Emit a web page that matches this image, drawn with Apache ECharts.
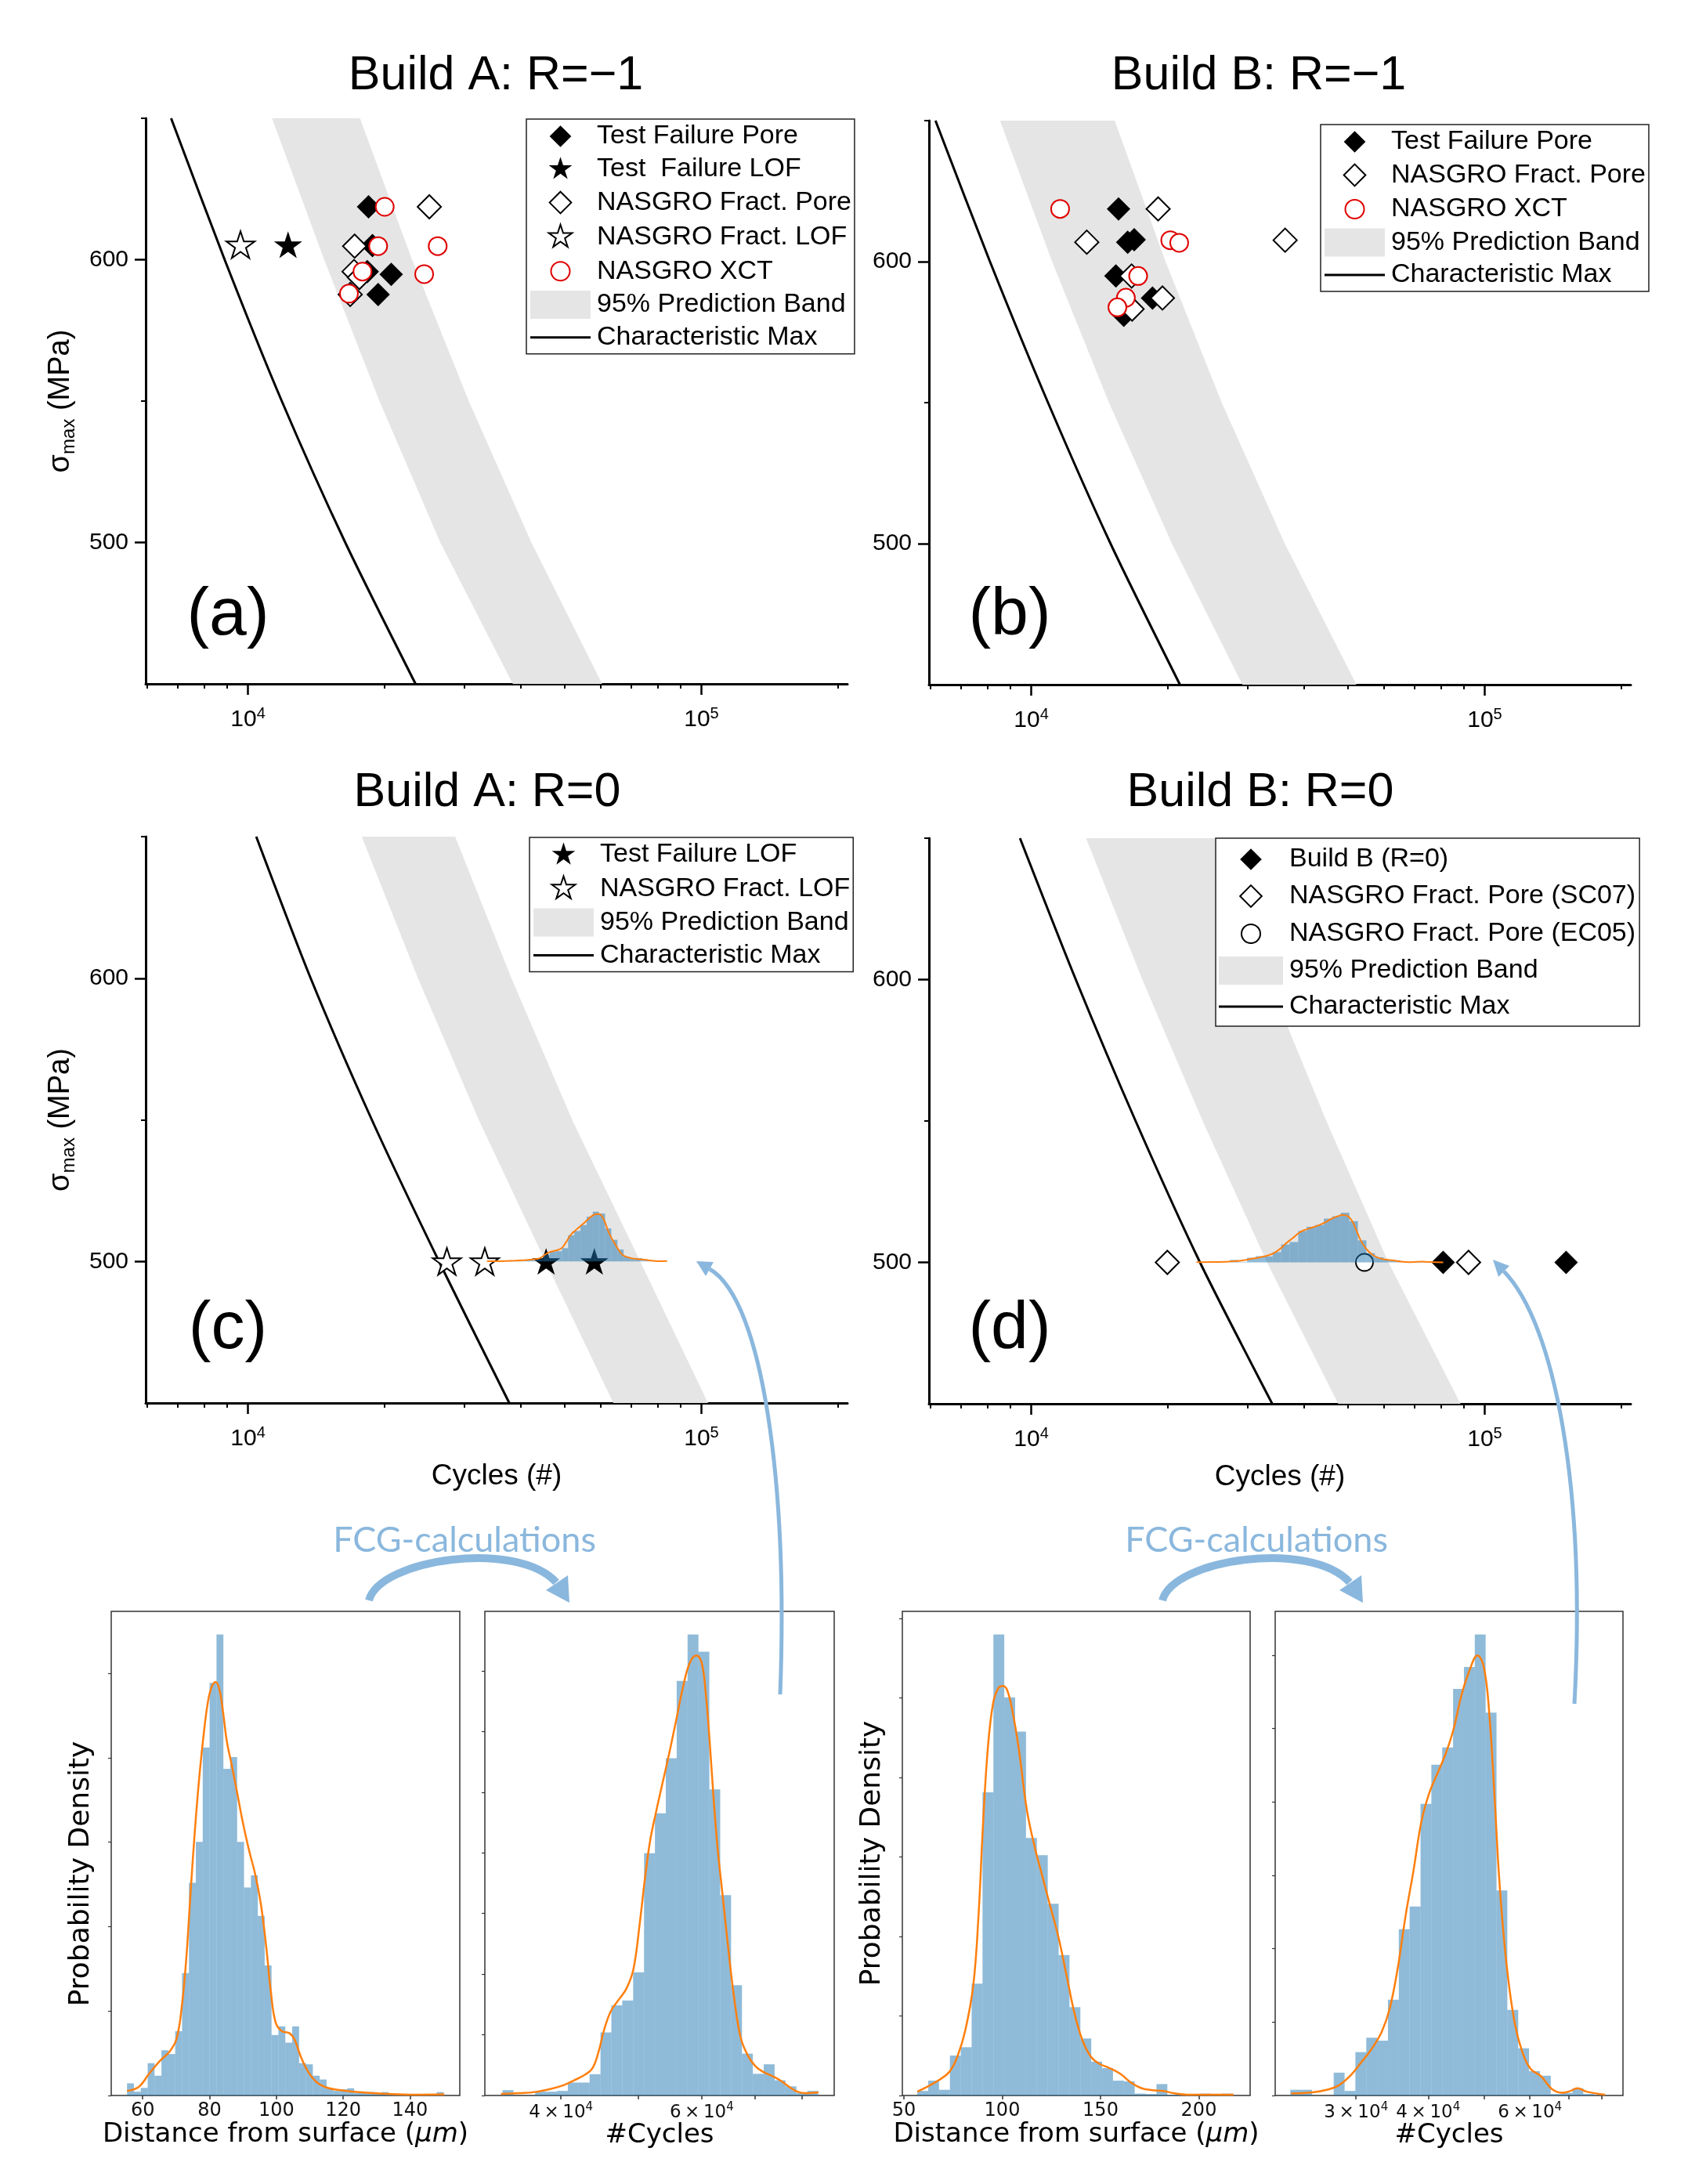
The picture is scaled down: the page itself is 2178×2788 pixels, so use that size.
<!DOCTYPE html>
<html><head><meta charset="utf-8">
<script src="https://cdn.jsdelivr.net/npm/echarts@6/dist/echarts.min.js"></script>
<style>html,body{margin:0;padding:0;background:#fff}#c{width:2178px;height:2788px}</style>
</head><body><div id="c"></div>
<script>
// ================= DATA (cycles, sigma_max MPa) =================
// (a) Build A: R=-1
const aTestPore = [[18450,618.7],[18820,605.0],[18330,595.8],[20700,594.8],[19370,587.7]];
const aTestLOF  = [[12260,605.3]];
const aNasPore  = [[25120,618.7],[17190,604.8],[17140,595.8],[17610,593.7],[16810,587.7]];
const aNasLOF   = [[9630,605.3]];
const aNasXCT   = [[20030,618.7],[19370,604.8],[26210,604.8],[17890,595.8],[24470,594.9],[16700,588.0]];
const aCharMax  = [[6770,650],[8885,600],[11875,550],[16390,500],[23420,450]];
const aBandLo   = [[11300,650],[14730,600],[19500,550],[26560,500],[38380,450]];
const aBandHi   = [[17660,650],[23010,600],[30690,550],[42170,500],[60390,450]];
// (b) Build B: R=-1
const bTestPore = [[15580,618.7],[16320,606.9],[16870,607.8],[15370,594.9],[18510,587.1],[16000,581.0]];
const bNasPore  = [[19050,618.7],[13260,606.9],[36300,607.6],[16650,594.9],[19470,587.1],[16690,583.2]];
const bNasXCT   = [[11580,618.7],[20260,607.6],[21200,606.7],[17210,594.9],[16170,587.2],[15490,583.8]];
const bCharMax  = [[6150,650],[8110,600],[10890,550],[14960,500],[21280,450]];
const bBandLo   = [[8535,650],[11120,600],[14840,550],[20430,500],[29220,450]];
const bBandHi   = [[15280,650],[19780,600],[26310,550],[36240,500],[52130,450]];
// (c) Build A: R=0
const cTestLOF  = [[45450,500],[58060,500]];
const cNasLOF   = [[27460,500],[33290,500]];
const cCharMax  = [[10430,650],[13750,600],[18760,550],[26380,500],[37700,450]];
const cBandLo   = [[17820,650],[23710,600],[32280,550],[45290,500],[63960,450]];
const cBandHi   = [[28640,650],[38110,600],[51880,550],[73280,500],[103400,450]];
// (d) Build B: R=0
const dBuildB   = [[80980,500],[151200,500]];
const dNasSC07  = [[19960,500],[92130,500]];
const dNasEC05  = [[54310,500]];
const dCharMax  = [[9445,650],[12540,600],[16990,550],[23560,500],[34000,450]];
const dBandLo   = [[13210,650],[17580,600],[23880,550],[33110,500],[47530,450]];
const dBandHi   = [[25390,650],[33320,600],[44750,550],[61340,500],[88450,450]];

// Histograms (relative probability density)
const hADistEdges = [55.30,57.36,59.42,61.48,63.54,65.60,67.66,69.72,71.78,73.84,75.90,77.96,80.02,82.08,84.14,86.20,88.26,90.32,92.38,94.44,96.50,98.56,100.62,102.68,104.74,106.80,108.86,110.92,112.98,115.04,117.10,119.16,121.22,123.28,125.34,127.40,129.46,131.52,133.58,135.64,137.70,139.76,141.82,143.88,145.94,148.00,150.06];
const hADistH = [32,10,20,85,52,119,109,169,322,559,667,915,1085,1212,859,890,667,547,579,472,342,159,182,139,182,85,82,52,42,19,12,16,19,7,9,9,4,9,3,2,2,0,0,0,0,9];
const kADist = [[55.28,12],[58.74,22],[61.89,57],[65.03,90],[68.18,117],[70.22,152],[71.79,242],[73.05,362],[74.31,532],[75.57,692],[76.98,842],[78.40,962],[79.65,1042],[80.75,1077],[81.86,1087],[82.96,1067],[84.06,1007],[85.16,932],[86.57,872],[88.14,802],[89.87,722],[91.76,647],[93.65,582],[95.38,502],[96.95,392],[98.36,272],[99.78,192],[101.67,169],[103.87,164],[105.44,147],[107.33,102],[109.53,62],[112.2,34],[115.35,20],[119.28,14],[125.57,8],[133.43,4],[141.29,2],[150.25,3]];

const hACycEdges = [33810,34886,35997,37144,38326,39547,40805,42106,43446,44830,46257,47730,49250,50817,52435,54106,55828,57606,59440,61333,63285,65300,67379,69525,71738,74022,76379,78811,81320,83910];
const hACycH = [14,0,0,10,10,12,34,34,56,166,237,250,324,637,742,887,1090,1212,1167,805,527,290,110,57,82,40,24,7,12];
const kACyc = [[33660,4],[35440,6],[37080,9],[38810,17],[40310,27],[41550,40],[42820,54],[43810,72],[44610,117],[45290,172],[46190,222],[47250,252],[48330,282],[49290,332],[50190,452],[50960,572],[51740,672],[52690,752],[53740,832],[54800,912],[55810,992],[56830,1072],[57960,1137],[59110,1157],[60010,1137],[60740,1052],[61390,932],[62040,792],[62800,652],[63760,522],[64730,392],[65920,252],[67130,152],[68460,107],[70030,77],[71650,62],[73860,49],[75550,37],[77290,22],[79060,10],[80870,6],[84000,8]];

const hBDistEdges = [56.80,62.33,67.86,73.39,78.92,84.45,89.98,95.51,101.04,106.57,112.10,117.63,123.16,128.69,134.22,139.75,145.28,150.81,156.34,161.87,167.40,172.93,178.46,183.99,189.52,195.05,200.58,206.11,211.64,217.17];
const hBDistH = [12,39,15,105,127,294,797,1212,1047,957,677,632,504,369,232,150,89,72,39,37,5,4,30,2,2,2,5,2,5];
const kBDist = [[56.79,10],[62.23,24],[67.66,40],[73.10,62],[77.17,102],[81.25,172],[85.33,292],[88.04,482],[90.22,712],[92.66,912],[95.38,1032],[98.10,1072],[100.27,1077],[102.45,1067],[105.16,1012],[108.42,912],[112.5,752],[116.58,652],[120.65,572],[124.73,492],[128.8,412],[132.88,312],[136.96,212],[141.03,142],[145.11,102],[149.18,84],[154.62,72],[160.05,57],[165.49,34],[170.92,19],[176.36,14],[181.79,12],[187.23,6],[195.38,2],[206.25,2],[217.66,2]];

const hBCycEdges = [23080,24100,25170,26280,27440,28660,29920,31250,32630,34070,35580,37150,38800,40510,42310,44180,46130,48170,50300,52530,54850,57280,59810,62460,65220,68110,71120,74270,77550];
const hBCycH = [15,15,0,0,60,12,114,152,144,252,437,497,767,870,915,1069,1127,1212,1007,539,225,124,64,52,4,7,19,4];
const kBCyc = [[23160,5],[25200,8],[26870,16],[28030,27],[29240,50],[30510,84],[31840,120],[33220,167],[34290,227],[35400,332],[36550,472],[37730,592],[38950,722],[40210,797],[41510,847],[42850,897],[44240,962],[45670,1052],[47150,1117],[48680,1157],[49930,1127],[50990,1012],[52090,792],[53200,552],[54700,342],[56460,192],[58290,112],[60180,70],[62790,50],[65510,17],[68350,7],[70560,12],[72540,19],[75210,10],[81000,2]];

// Tick values
const X_MAJOR = [1e4, 1e5];
const X_MINOR = [6000,7000,8000,9000,20000,30000,40000,50000,60000,70000,80000,90000,200000];
const Y_MAJOR = [500, 600];
const Y_MINOR = [550, 650];

// ================= STYLE / BUILD =================
const F = '"Liberation Sans", Arial, sans-serif';
const FD = '"DejaVu Sans", sans-serif';
const BLUE = '#8ab7dd';
const XMIN = 5950, XMAX = 210000;
const OVER_BASE = 500, OVER_K = 0.01448;
const DIAMOND = 'path://M0,-1L1,0L0,1L-1,0Z';
const STAR = 'path://M0,-10L2.245,-3.09L9.51,-3.09L3.633,1.18L5.88,8.09L0,3.82L-5.88,8.09L-3.633,1.18L-9.51,-3.09L-2.245,-3.09Z';
const DIAMOND_LG = 'path://M-1.3,-1.3M1.3,1.3M0,-1L1,0L0,1L-1,0Z';
const STAR_LG = 'path://M-11.5,-11.5M11.5,11.5M0,-10L2.245,-3.09L9.51,-3.09L3.633,1.18L5.88,8.09L0,3.82L-5.88,8.09L-3.633,1.18L-9.51,-3.09L-2.245,-3.09Z';
const CIRCLE_LG = 'path://M-1.5,-1.5M1.5,1.5M1,0A1,1,0,1,1,-1,0A1,1,0,1,1,1,0Z';
const LINE_LG = 'path://M0,0L77,0L77,3L0,3Z';

const grids = [], xAxes = [], yAxes = [], series = [];

const topGrids = [[186,151,896,722],[1186,154,896,720],[186,1068,896,723],[1186,1070,896,722]];
topGrids.forEach((g, i) => {
  grids.push({left:g[0], top:g[1], width:g[2], height:g[3], containLabel:false, outerBoundsMode:'none'});
  const withX = i >= 2, withY = i % 2 === 0;
  xAxes.push({type:'log', logBase:10, gridIndex:i, min:XMIN, max:XMAX, position:'bottom',
    axisLine:{show:true, onZero:false, lineStyle:{color:'#000', width:3}},
    axisTick:{show:true, inside:false, length:14, customValues:X_MAJOR, lineStyle:{color:'#000', width:2.5}},
    minorTick:{show:false}, splitLine:{show:false},
    axisLabel:{show:true, customValues:X_MAJOR, margin:28,
      formatter: v => '{m|10}{s|' + Math.round(Math.log10(v)) + '}',
      rich:{m:{fontFamily:F, fontSize:30, color:'#000', lineHeight:36}, s:{fontFamily:F, fontSize:20, color:'#000', lineHeight:20, verticalAlign:'top'}}},
    name: withX ? 'Cycles (#)' : '', nameLocation:'middle', nameGap:75,
    nameTextStyle:{fontFamily:F, fontSize:37, color:'#000'}});
  xAxes.push({type:'log', logBase:10, gridIndex:i, min:XMIN, max:XMAX, position:'bottom',
    axisLine:{show:false, onZero:false},
    axisTick:{show:true, inside:false, length:6, customValues:X_MINOR, lineStyle:{color:'#000', width:2}},
    axisLabel:{show:false}, splitLine:{show:false}, minorTick:{show:false}});
  yAxes.push({type:'value', gridIndex:i, min:450, max:650, position:'left',
    axisLine:{show:true, onZero:false, lineStyle:{color:'#000', width:3}},
    axisTick:{show:true, inside:false, length:14, customValues:Y_MAJOR, lineStyle:{color:'#000', width:2.5}},
    axisLabel:{show:true, customValues:Y_MAJOR, margin:22, fontFamily:F, fontSize:30, color:'#000'},
    splitLine:{show:false},
    name: withY ? '{a|σ}{b|max}{a| (MPa)}' : '', nameLocation:'middle', nameRotate:90, nameGap:86,
    nameTextStyle:{rich:{a:{fontFamily:F, fontSize:38, color:'#000', lineHeight:44}, b:{fontFamily:F, fontSize:24, color:'#000', lineHeight:24, verticalAlign:'bottom'}}}});
  yAxes.push({type:'value', gridIndex:i, min:450, max:650, position:'left',
    axisLine:{show:false, onZero:false},
    axisTick:{show:true, inside:false, length:6, customValues:Y_MINOR, lineStyle:{color:'#000', width:2}},
    axisLabel:{show:false}, splitLine:{show:false}});
});

// histogram grids
const histGrids = [[142,2057,445,618],[619,2057,446,618],[1152,2057,444,618],[1628,2057,444,618]];
const cycFmt = v => '{n|' + Math.round(v / 1e4) + '\u2009×\u200910}{s|4}';
const histCfg = [
  {type:'value', min:50.57, max:154.9, ticks:[60,80,100,120,140], labels:[60,80,100,120,140], fmt:null, xname:'Distance from surface ({i|μm})', yticks:[0,222,444,666,888,1110], yname:'Probability Density', ypad:[0,52,0,0]},
  {type:'log', min:32130, max:87880, ticks:[40000,50000,60000,70000,80000], labels:[40000,60000], fmt:cycFmt, xname:'#Cycles', yticks:[0,159.5,319,478.5,638,797.5,957,1116.5], yname:''},
  {type:'value', min:49.2, max:226.1, ticks:[50,100,150,200], labels:[50,100,150,200], fmt:null, xname:'Distance from surface ({i|μm})', yticks:[0,209,418,627,836,1045,1254], yname:'Probability Density', ypad:[0,0,0,0]},
  {type:'log', min:21730, max:86990, ticks:[30000,40000,50000,60000,70000,80000], labels:[30000,40000,60000], fmt:cycFmt, xname:'#Cycles', yticks:[0,193,386,579,772,965,1158], yname:''}
];
histGrids.forEach((g, q) => {
  const c = histCfg[q];
  grids.push({left:g[0], top:g[1], width:g[2], height:g[3], show:true, borderColor:'#333', borderWidth:1.5, backgroundColor:'transparent', containLabel:false, outerBoundsMode:'none'});
  const lab = {show:true, customValues:c.labels, margin:8, fontFamily:FD, fontSize:24, color:'#111',
    rich:{n:{fontFamily:FD, fontSize:23, color:'#111', lineHeight:28}, s:{fontFamily:FD, fontSize:15, color:'#111', lineHeight:15, verticalAlign:'top'}}};
  if (c.fmt) lab.formatter = c.fmt;
  xAxes.push({type:c.type, logBase:10, gridIndex:4+q, min:c.min, max:c.max, position:'bottom',
    axisLine:{show:false, onZero:false},
    axisTick:{show:true, inside:false, length:5, customValues:c.ticks, lineStyle:{color:'#333', width:1.5}},
    axisLabel:lab, splitLine:{show:false}, minorTick:{show:false},
    name:c.xname, nameLocation:'middle', nameGap:30,
    nameTextStyle:{fontFamily:FD, fontSize:34, color:'#000', rich:{i:{fontFamily:FD, fontSize:34, fontStyle:'italic', color:'#000'}}}});
  yAxes.push({type:'value', gridIndex:4+q, min:0, max:1273, position:'left',
    axisLine:{show:false, onZero:false},
    axisTick:{show:true, inside:false, length:4, customValues:c.yticks, lineStyle:{color:'#333', width:1.2}},
    axisLabel:{show:false}, splitLine:{show:false},
    name:c.yname, nameLocation:'middle', nameRotate:90, nameGap:20,
    nameTextStyle:{fontFamily:FD, fontSize:36, color:'#000', padding:c.ypad || 0}});
});

// ---------- series builders ----------
const FILLED = {color:'#000', borderWidth:0, opacity:1};
const HOLLOW = {color:'#fff', borderColor:'#000', borderWidth:2, opacity:1};
const REDC = {color:'#fff', borderColor:'#e00000', borderWidth:2, opacity:1};
const OPENC = {color:'#fff', borderColor:'#000', borderWidth:1.8, opacity:1};

function scat(name, data, p, symbol, size, style) {
  series.push({type:'scatter', name, data, xAxisIndex:2*p, yAxisIndex:2*p, symbol, symbolSize:size,
    symbolKeepAspect:true, itemStyle:style, z:4, silent:true});
}
function band(p, lo, hi) {
  const poly = lo.concat(hi.slice().reverse());
  series.push({type:'custom', name:'95% Prediction Band', xAxisIndex:2*p, yAxisIndex:2*p, data:poly,
    encode:{x:0, y:1}, itemStyle:{color:'#e5e5e5'}, z:1, silent:true, clip:true,
    renderItem(params, api) {
      if (params.dataIndex !== 0) return null;
      return {type:'polygon', shape:{points: poly.map(pt => api.coord(pt))}, style:{fill:'#e5e5e5'}};
    }});
}
function charLine(p, data) {
  series.push({type:'line', name:'Characteristic Max', data, xAxisIndex:2*p, yAxisIndex:2*p,
    symbol:'none', smooth:0.25, lineStyle:{color:'#000', width:3}, itemStyle:{color:'#000'}, z:3, silent:true});
}
function bars(edges, heights, xi, yi, base, k, z) {
  const data = heights.map((h, i) => [edges[i], edges[i+1], base, base + h * k, h]);
  series.push({type:'custom', xAxisIndex:xi, yAxisIndex:yi, data, encode:{x:[0,1], y:[2,3]}, z, silent:true, clip:true,
    renderItem(params, api) {
      if (api.value(4) <= 0) return null;
      const p0 = api.coord([api.value(0), api.value(2)]);
      const p1 = api.coord([api.value(1), api.value(3)]);
      return {type:'rect', shape:{x:p0[0], y:p1[1], width:p1[0]-p0[0], height:p0[1]-p1[1]}, style:{fill:'rgba(31,119,180,0.5)'}};
    }});
}
function kde(pts, xi, yi, base, k, w, z) {
  series.push({type:'line', data: pts.map(d => [d[0], base + d[1] * k]), xAxisIndex:xi, yAxisIndex:yi,
    symbol:'none', smooth:0.4, lineStyle:{color:'#ff7f0e', width:w}, z, silent:true});
}

// (a)
band(0, aBandLo, aBandHi); charLine(0, aCharMax);
scat('Test Failure Pore', aTestPore, 0, DIAMOND, 30, FILLED);
scat('Test  Failure LOF', aTestLOF, 0, STAR, 36, FILLED);
scat('NASGRO Fract. Pore', aNasPore, 0, DIAMOND, 30, HOLLOW);
scat('NASGRO Fract. LOF', aNasLOF, 0, STAR, 36, HOLLOW);
scat('NASGRO XCT', aNasXCT, 0, 'circle', 23, REDC);
// (b)
band(1, bBandLo, bBandHi); charLine(1, bCharMax);
scat('Test Failure Pore', bTestPore, 1, DIAMOND, 30, FILLED);
scat('NASGRO Fract. Pore', bNasPore, 1, DIAMOND, 30, HOLLOW);
scat('NASGRO XCT', bNasXCT, 1, 'circle', 23, REDC);
// (c)
band(2, cBandLo, cBandHi); charLine(2, cCharMax);
scat('Test Failure LOF', cTestLOF, 2, STAR, 36, FILLED);
scat('NASGRO Fract. LOF', cNasLOF, 2, STAR, 36, HOLLOW);
bars(hACycEdges, hACycH, 4, 4, OVER_BASE, OVER_K, 5);
kde(kACyc, 4, 4, OVER_BASE, OVER_K, 2, 6);
// (d)
band(3, dBandLo, dBandHi); charLine(3, dCharMax);
scat('Build B (R=0)', dBuildB, 3, DIAMOND, 30, FILLED);
scat('NASGRO Fract. Pore (SC07)', dNasSC07, 3, DIAMOND, 30, HOLLOW);
scat('NASGRO Fract. Pore (EC05)', dNasEC05, 3, 'circle', 22, OPENC);
bars(hBCycEdges, hBCycH, 6, 6, OVER_BASE, OVER_K, 5);
kde(kBCyc, 6, 6, OVER_BASE, OVER_K, 2, 6);
// histograms
bars(hADistEdges, hADistH, 8, 8, 0, 1, 2);  kde(kADist, 8, 8, 0, 1, 2.5, 3);
bars(hACycEdges, hACycH, 9, 9, 0, 1, 2);    kde(kACyc, 9, 9, 0, 1, 2.5, 3);
bars(hBDistEdges, hBDistH, 10, 10, 0, 1, 2); kde(kBDist, 10, 10, 0, 1, 2.5, 3);
bars(hBCycEdges, hBCycH, 11, 11, 0, 1, 2);  kde(kBCyc, 11, 11, 0, 1, 2.5, 3);

// ---------- legends ----------
function mkLegend(items, left, top, gap, iw, pad) {
  return {show:true, orient:'vertical', left, top, itemWidth:iw, itemHeight:36, itemGap:gap, padding:pad,
    borderColor:'#222', borderWidth:1.5, borderRadius:0, backgroundColor:'#fff', selectedMode:false,
    textStyle:{fontFamily:F, fontSize:34, color:'#000', lineHeight:36, padding:[0,0,0,3]}, data:items};
}
const LBAND = {name:'95% Prediction Band', icon:'rect'};
const LCHAR = {name:'Characteristic Max', icon:LINE_LG};
const legends = [
  mkLegend([{name:'Test Failure Pore', icon:DIAMOND_LG},{name:'Test  Failure LOF', icon:STAR_LG},{name:'NASGRO Fract. Pore', icon:DIAMOND_LG},{name:'NASGRO Fract. LOF', icon:STAR_LG},{name:'NASGRO XCT', icon:CIRCLE_LG},LBAND,LCHAR], 672, 152, 5.8, 77, [4,4,3,5]),
  mkLegend([{name:'Test Failure Pore', icon:DIAMOND_LG},{name:'NASGRO Fract. Pore', icon:DIAMOND_LG},{name:'NASGRO XCT', icon:CIRCLE_LG},LBAND,LCHAR], 1686, 159, 5.5, 77, [4,4,3,5]),
  mkLegend([{name:'Test Failure LOF', icon:STAR_LG},{name:'NASGRO Fract. LOF', icon:STAR_LG},LBAND,LCHAR], 676, 1069, 6.2, 77, [4,4,3,5]),
  mkLegend([{name:'Build B (R=0)', icon:DIAMOND_LG},{name:'NASGRO Fract. Pore (SC07)', icon:DIAMOND_LG},{name:'NASGRO Fract. Pore (EC05)', icon:CIRCLE_LG},LBAND,LCHAR], 1552, 1070, 10, 82, [9,5,7,4])
];

// ---------- free text & arrows ----------
function txt(t, x, y, size, family, fill, rot) {
  return {type:'text', x, y, rotation: rot || 0, silent:true, z:100,
    style:{text:t, fontSize:size, fontFamily:family, fill, align:'center', verticalAlign:'middle', textAlign:'center', textVerticalAlign:'middle'}};
}
const graphics = [
  txt('Build A: R=\u22121', 633, 97, 61, F, '#000'),
  txt('Build B: R=\u22121', 1607, 97, 61, F, '#000'),
  txt('Build A: R=0', 622, 1012, 61, F, '#000'),
  txt('Build B: R=0', 1609, 1012, 61, F, '#000'),
  txt('(a)', 291, 786, 86, F, '#000'),
  txt('(b)', 1289, 786, 86, F, '#000'),
  txt('(c)', 291, 1697, 86, F, '#000'),
  txt('(d)', 1289, 1697, 86, F, '#000'),
  txt('FCG-calculations', 593, 1966, 45, 'Lato, sans-serif', BLUE),
  txt('FCG-calculations', 1604, 1966, 45, 'Lato, sans-serif', BLUE)
];
[0, 1013].forEach(dx => {
  graphics.push({type:'bezierCurve', silent:true, z:100, shape:{x1:471+dx, y1:2043, cpx1:485+dx, cpy1:1990, cpx2:660+dx, cpy2:1965, x2:710+dx, y2:2020}, style:{stroke:BLUE, lineWidth:10, fill:null}});
  graphics.push({type:'polygon', silent:true, z:100, shape:{points:[[727+dx,2046],[725+dx,2011],[697+dx,2030]]}, style:{fill:BLUE}});
});
graphics.push({type:'bezierCurve', silent:true, z:100, shape:{x1:996, y1:2163, cpx1:1006, cpy1:1900, cpx2:975, cpy2:1660, x2:906, y2:1620}, style:{stroke:BLUE, lineWidth:5, fill:null}});
graphics.push({type:'polygon', silent:true, z:100, shape:{points:[[889,1610],[911,1611],[901,1629]]}, style:{fill:BLUE}});
graphics.push({type:'bezierCurve', silent:true, z:100, shape:{x1:2010, y1:2175, cpx1:2025, cpy1:1900, cpx2:1985, cpy2:1690, x2:1920, y2:1623}, style:{stroke:BLUE, lineWidth:5, fill:null}});
graphics.push({type:'polygon', silent:true, z:100, shape:{points:[[1906,1608],[1927,1616],[1913,1630]]}, style:{fill:BLUE}});

const chart = echarts.init(document.getElementById('c'), null, {renderer:'canvas', width:2178, height:2788});
chart.setOption({
  animation:false,
  backgroundColor:'#fff',
  grid:grids, xAxis:xAxes, yAxis:yAxes, series, legend:legends,
  graphic:{elements:graphics}
});
</script></body></html>
